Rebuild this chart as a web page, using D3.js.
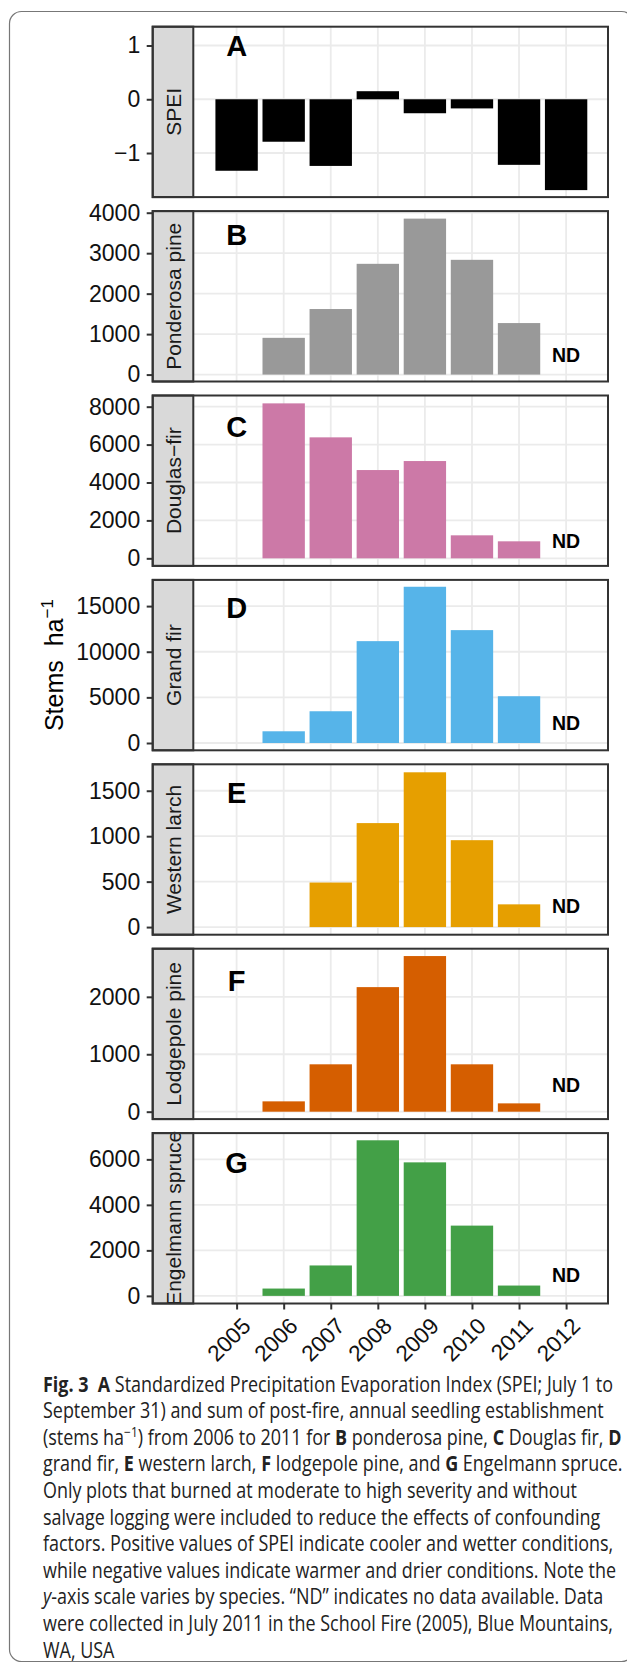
<!DOCTYPE html>
<html lang="en">
<head>
<meta charset="UTF-8">
<title>Fig. 3 SPEI and seedling establishment</title>
<script src="https://d3js.org/d3.v7.min.js"></script>
<style>
  body { margin: 0; background: #fff; }
  svg { display: block; }
  .chart-text { font-family: "Liberation Sans", Arial, Helvetica, sans-serif; }
  .caption { font-family: "Open Sans", "Noto Sans", sans-serif; fill: #222; }
</style>
</head>
<body>
<div id="chart"></div>
<script>
// ---- data ----
const years = [2005, 2006, 2007, 2008, 2009, 2010, 2011, 2012];
const seedlingYears = [2006, 2007, 2008, 2009, 2010, 2011];

const spei = [-1.33, -0.79, -1.24, 0.15, -0.26, -0.17, -1.22, -1.69];
const ponderosaPine = [908, 1620, 2737, 3854, 2836, 1273];
const douglasFir = [8175, 6382, 4657, 5132, 1213, 897];
const grandFir = [1284, 3478, 11160, 17118, 12367, 5125];
const westernLarch = [0, 490, 1144, 1703, 956, 250];
const lodgepolePine = [180, 825, 2169, 2710, 825, 145];
const engelmannSpruce = [322, 1337, 6838, 5868, 3088, 454];

const panelNames = ["SPEI", "Ponderosa pine", "Douglas\u2212fir", "Grand fir",
  "Western larch", "Lodgepole pine", "Engelmann spruce"];
const panelLetters = ["A", "B", "C", "D", "E", "F", "G"];
const barColors = ["#000000", "#999999", "#CC79A7", "#56B4E9", "#E69F00", "#D55E00", "#43A047"];

const yTicks = [
  [-1, 0, 1],
  [0, 1000, 2000, 3000, 4000],
  [0, 2000, 4000, 6000, 8000],
  [0, 5000, 10000, 15000],
  [0, 500, 1000, 1500],
  [0, 1000, 2000],
  [0, 2000, 4000, 6000]
];
const yLimits = [[-1.82, 1.35], [-171, 4040], [-400, 8590], [-800, 17870],
  [-84, 1791], [-129, 2838], [-335, 7154]];
const letterY = [1, 3450, 6950, 14800, 1480, 2290, 5880];
const ndY = [null, 475, 930, 2220, 235, 460, 925];

const panels = [
  { years: years, values: spei },
  { years: seedlingYears, values: ponderosaPine },
  { years: seedlingYears, values: douglasFir },
  { years: seedlingYears, values: grandFir },
  { years: seedlingYears, values: westernLarch },
  { years: seedlingYears, values: lodgepolePine },
  { years: seedlingYears, values: engelmannSpruce }
];

const captionLines = [
  [["Fig. 3", "b"], ["\u00a0\u00a0", ""], ["A", "b"], [" Standardized Precipitation Evaporation Index (SPEI; July 1 to", ""]],
  [["September 31) and sum of post-fire, annual seedling establishment", ""]],
  [["(stems ha", ""], ["\u22121", "sup"], [") from 2006 to 2011 for ", ""], ["B", "b"], [" ponderosa pine, ", ""], ["C", "b"], [" Douglas fir, ", ""], ["D", "b"]],
  [["grand fir, ", ""], ["E", "b"], [" western larch, ", ""], ["F", "b"], [" lodgepole pine, and ", ""], ["G", "b"], [" Engelmann spruce.", ""]],
  [["Only plots that burned at moderate to high severity and without", ""]],
  [["salvage logging were included to reduce the effects of confounding", ""]],
  [["factors. Positive values of SPEI indicate cooler and wetter conditions,", ""]],
  [["while negative values indicate warmer and drier conditions. Note the", ""]],
  [["y", "i"], ["-axis scale varies by species. \u201cND\u201d indicates no data available. Data", ""]],
  [["were collected in July 2011 in the School Fire (2005), Blue Mountains,", ""]],
  [["WA, USA", ""]]
];

// ---- layout ----
const width = 627, height = 1668;
const stripLeft = 152.7, plotLeft = 193.3, plotRight = 608;
const panelTop0 = 26.7, panelH = 170.4, panelStep = 184.4;
const dark = "#333333", grid = "#EBEBEB";
// right end of the full caption lines as set in the figure
const captionRight = [624, 612, 624, 623, 565, 618, 618, 621, 536, 621, 105];

const svg = d3.select("#chart").append("svg")
  .attr("width", width)
  .attr("height", height);

// outer rounded frame of the figure
svg.append("rect")
  .attr("x", 9.5).attr("y", 11.5)
  .attr("width", 624).attr("height", 1650)
  .attr("rx", 12)
  .attr("fill", "none")
  .attr("stroke", "#777")
  .attr("stroke-width", 1.2);

const x = d3.scaleLinear()
  .domain([2004.08, 2012.89])
  .range([plotLeft, plotRight]);
const barW = 0.9 * (x(1) - x(0));

panels.forEach((p, i) => {
  const top = panelTop0 + i * panelStep;
  const bottom = top + panelH;
  const y = d3.scaleLinear().domain(yLimits[i]).range([bottom, top]);
  const g = svg.append("g").attr("class", "chart-text");

  // grid
  g.selectAll(".hgrid").data(yTicks[i]).join("line")
    .attr("x1", plotLeft).attr("x2", plotRight)
    .attr("y1", d => y(d)).attr("y2", d => y(d))
    .attr("stroke", grid).attr("stroke-width", 1.8);
  g.selectAll(".vgrid").data(years).join("line")
    .attr("x1", d => x(d)).attr("x2", d => x(d))
    .attr("y1", top).attr("y2", bottom)
    .attr("stroke", grid).attr("stroke-width", 1.8);

  // bars
  const rows = p.years.map((yr, k) => ({ year: yr, value: p.values[k] }))
    .filter(d => d.value !== 0);
  g.selectAll(".bar").data(rows).join("rect")
    .attr("x", d => x(d.year) - barW / 2)
    .attr("width", barW)
    .attr("y", d => y(Math.max(0, d.value)))
    .attr("height", d => Math.abs(y(0) - y(d.value)))
    .attr("fill", barColors[i]);

  // panel letter
  g.append("text")
    .attr("x", x(2005)).attr("y", y(letterY[i]))
    .attr("dy", "0.36em")
    .attr("text-anchor", "middle")
    .attr("font-weight", "bold")
    .attr("font-size", 29)
    .attr("fill", "#000")
    .text(panelLetters[i]);

  // ND marker
  if (ndY[i] !== null) {
    g.append("text")
      .attr("x", x(2012)).attr("y", y(ndY[i]))
      .attr("dy", "0.36em")
      .attr("text-anchor", "middle")
      .attr("font-weight", "bold")
      .attr("font-size", 19.5)
      .attr("fill", "#000")
      .text("ND");
  }

  // strip
  g.append("rect")
    .attr("x", stripLeft).attr("y", top)
    .attr("width", plotLeft - stripLeft).attr("height", panelH)
    .attr("fill", "#D9D9D9")
    .attr("stroke", dark).attr("stroke-width", 2);
  g.append("text")
    .attr("transform", `translate(${(stripLeft + plotLeft) / 2},${top + panelH / 2}) rotate(-90)`)
    .attr("dy", "0.36em")
    .attr("text-anchor", "middle")
    .attr("font-size", 21)
    .attr("fill", "#1A1A1A")
    .text(panelNames[i]);

  // panel border
  g.append("rect")
    .attr("x", stripLeft).attr("y", top)
    .attr("width", plotRight - stripLeft).attr("height", panelH)
    .attr("fill", "none")
    .attr("stroke", dark).attr("stroke-width", 2);

  // y axis
  const ax = g.append("g")
    .attr("transform", `translate(${stripLeft},0)`)
    .call(d3.axisLeft(y).tickValues(yTicks[i]).tickSize(6).tickPadding(6.5)
      .tickFormat(d3.format("d")));
  ax.select(".domain").remove();
  ax.selectAll(".tick line").attr("stroke", dark).attr("stroke-width", 2);
  ax.selectAll(".tick text")
    .attr("font-family", "Liberation Sans, Arial, sans-serif")
    .attr("font-size", 23)
    .attr("fill", "#111");

  // x axis only under the last panel
  if (i === panels.length - 1) {
    const bx = g.append("g")
      .attr("transform", `translate(0,${bottom})`)
      .call(d3.axisBottom(x).tickValues(years).tickSize(6).tickFormat(d3.format("d")));
    bx.select(".domain").remove();
    bx.selectAll(".tick line").attr("stroke", dark).attr("stroke-width", 2);
    bx.selectAll(".tick text")
      .attr("x", 0).attr("y", 0).attr("dy", "0.75em")
      .attr("transform", "translate(3,12) rotate(-45)")
      .attr("text-anchor", "end")
      .attr("font-family", "Liberation Sans, Arial, sans-serif")
      .attr("font-size", 22.5)
      .attr("fill", "#111");
  }
});

// y axis title
const midY = (panelTop0 + panelTop0 + 6 * panelStep + panelH) / 2;
const yTitle = svg.append("text")
  .attr("class", "chart-text")
  .attr("transform", `translate(63,${midY}) rotate(-90)`)
  .attr("text-anchor", "middle")
  .attr("font-size", 25)
  .attr("fill", "#000");
yTitle.append("tspan").text("Stems\u00a0\u00a0ha");
yTitle.append("tspan").attr("dy", -10).attr("font-size", 17).text("\u22121");

// caption: one horizontal squeeze for all lines so the full lines fit the frame
const cap = svg.append("g").attr("class", "caption");
const capLeft = 43, capBase = 1391.5, capStep = 26.6;
const capTexts = captionLines.map((segs, li) => {
  const t = cap.append("text")
    .attr("x", 0).attr("y", 0)
    .attr("font-size", 21);
  let shifted = false;
  segs.forEach(([txt, sty]) => {
    const s = t.append("tspan").text(txt);
    if (sty === "b") s.attr("font-weight", "bold");
    if (sty === "i") s.attr("font-style", "italic");
    if (sty === "sup") { s.attr("font-size", 14).attr("dy", -8); shifted = true; }
    else if (shifted) { s.attr("dy", 8); shifted = false; }
  });
  return t;
});
const ratios = capTexts
  .map((t, li) => (captionRight[li] - capLeft) / t.node().getComputedTextLength())
  .filter((r, li) => captionRight[li] > 600);
const sx = d3.min(ratios);
capTexts.forEach((t, li) => {
  t.attr("transform", `translate(${capLeft},${capBase + li * capStep}) scale(${sx},1)`);
});
</script>
</body>
</html>
